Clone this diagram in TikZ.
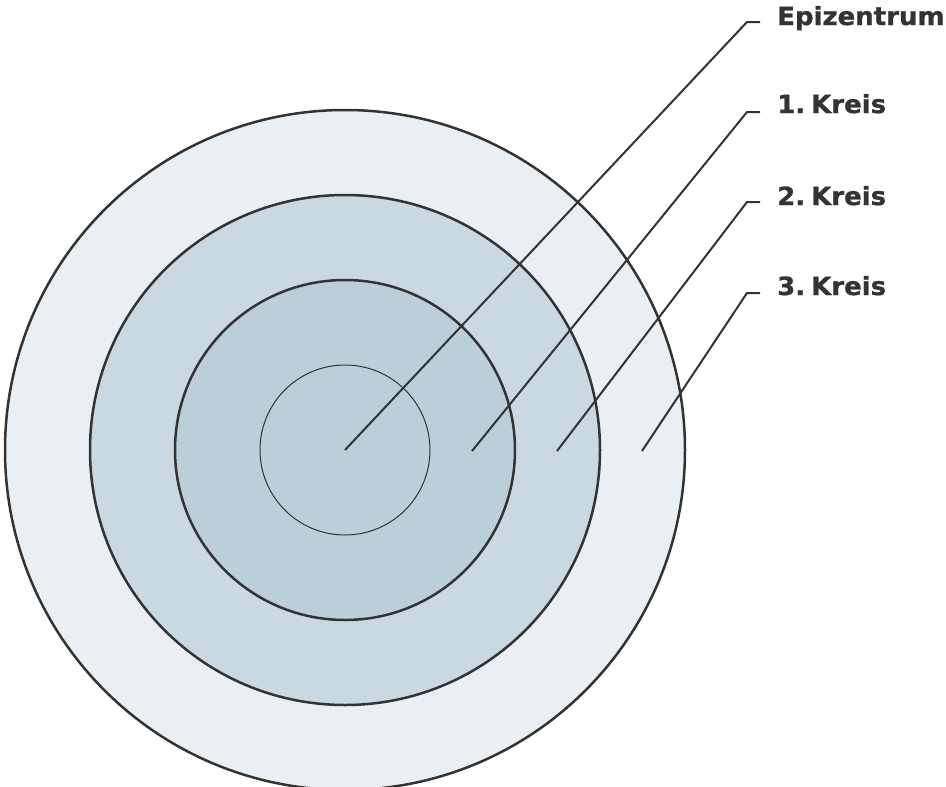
\documentclass[tikz,border=0pt]{standalone}
\usepackage{fontspec}
\setmainfont{DejaVu Sans}
\newfontfamily\lblfont[FakeStretch=1.04,FakeBold=1]{DejaVu Sans Bold}
\definecolor{ringA}{HTML}{E9EFF3}
\definecolor{ringB}{HTML}{CAD9E1}
\definecolor{ringC}{HTML}{BCCED7}
\definecolor{ink}{HTML}{333333}
\tikzset{
  ring/.style={draw=ink, line width=2.5pt},
  leader/.style={draw=ink, line width=2pt},
  lbl/.style={anchor=base west, inner sep=0pt, text=ink, font=\lblfont\fontsize{25}{25}\selectfont}
}
\begin{document}
\begin{tikzpicture}[x=1pt,y=-1pt]
\useasboundingbox (0,0) rectangle (946,787);
\coordinate (c) at (345,450);
\path[ring, fill=ringA] (c) circle[radius=340];
\path[ring, fill=ringB] (c) circle[radius=255];
\path[ring, fill=ringC] (c) circle[radius=170];
\path[draw=ink, line width=1pt, fill=ringC] (c) circle[radius=85];
\node[lbl] (l0) at (777,25) {Epizentrum};
\node[lbl] (l1) at (777,113) {1.\hspace{6pt}Kreis};
\node[lbl] (l2) at (777,205) {2.\hspace{6pt}Kreis};
\node[lbl] (l3) at (777,295) {3.\hspace{6pt}Kreis};
\coordinate (p0) at (345,450);
\coordinate (p1) at (472,451);
\coordinate (p2) at (557,451);
\coordinate (p3) at (642,451);
\draw[leader] (p0) -- (747,22) -- (760,22);
\draw[leader] (p1) -- (747,112) -- (760,112);
\draw[leader] (p2) -- (747,202) -- (760,202);
\draw[leader] (p3) -- (747,293) -- (760,293);
\end{tikzpicture}
\end{document}
